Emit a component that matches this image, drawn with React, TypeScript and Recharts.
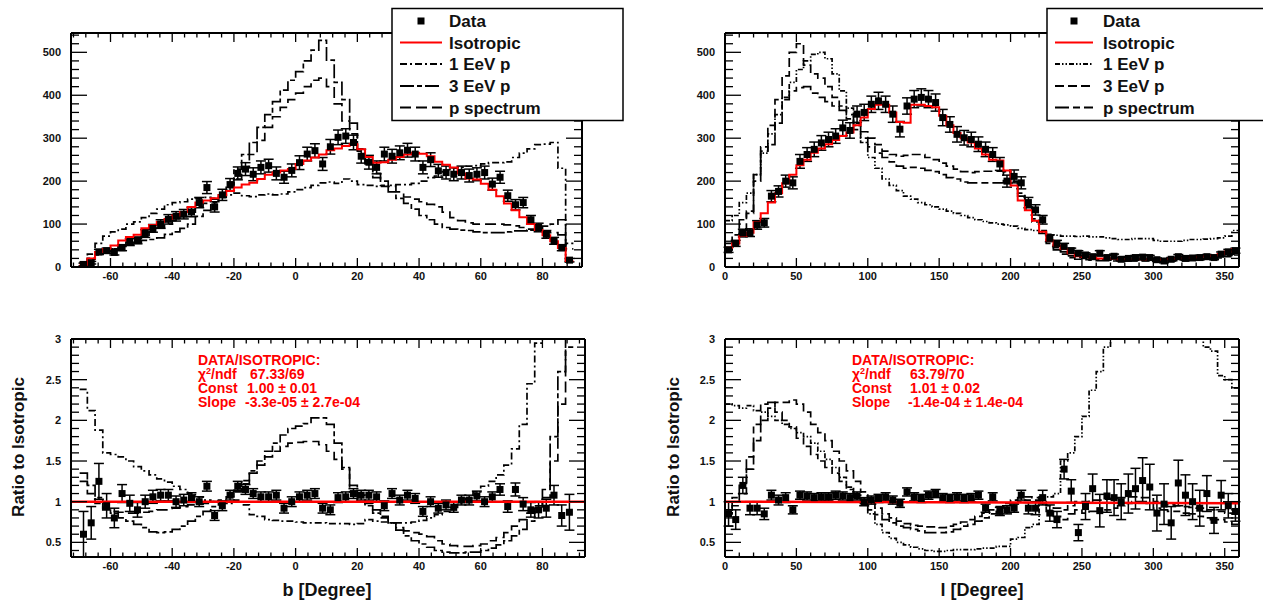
import React from "react";
import { ComposedChart, Line, Scatter, ErrorBar, XAxis, YAxis } from "recharts";

const FONT = '"Liberation Sans", Arial, Helvetica, sans-serif';

// histogram binning (lower edge of first bin, bin width)
const B_FIRST_EDGE = -70;
const B_BIN = 2.5;
const L_FIRST_EDGE = 0;
const L_BIN = 5;

// ---- b distribution (events per bin) ----
const bIsotropic = [
  5, 20, 35, 42, 50, 62, 70, 75, 90, 98,
  105, 112, 120, 128, 140, 150, 155, 160, 167, 177,
  185, 192, 196, 205, 215, 220, 225, 228, 240, 248,
  255, 262, 272, 276, 282, 286, 274, 256, 243, 244,
  250, 256, 262, 266, 264, 258, 245, 238, 232, 218,
  206, 204, 194, 180, 165, 148, 132, 116, 100, 86,
  74, 60, 44, 14,
];
const bData = [
  6, 10, 35, 38, 34, 45, 58, 62, 78, 90,
  100, 111, 118, 123, 128, 150, 185, 140, 168, 192,
  218, 228, 216, 232, 236, 218, 209, 225, 243, 263,
  271, 240, 280, 302, 305, 290, 258, 244, 232, 263,
  258, 266, 272, 263, 232, 250, 224, 220, 216, 220,
  213, 216, 220, 193, 209, 166, 145, 150, 110, 92,
  76, 61, 45, 16,
];
const bDataErr = [
  3, 3, 6, 6, 6, 7, 8, 8, 9, 9,
  10, 11, 11, 11, 11, 12, 14, 12, 13, 14,
  15, 15, 15, 15, 15, 15, 14, 15, 16, 16,
  16, 15, 17, 17, 17, 17, 16, 16, 15, 16,
  16, 16, 16, 16, 15, 16, 15, 15, 15, 15,
  15, 15, 15, 14, 14, 13, 12, 12, 10, 10,
  9, 8, 7, 4,
];
const b1EeV = [
  10, 30, 55, 72, 82, 88, 100, 105, 115, 125,
  135, 145, 150, 152, 158, 160, 162, 160, 162, 168,
  172, 166, 164, 168, 170, 168, 170, 175, 180, 185,
  190, 196, 198, 195, 205, 200, 192, 190, 188, 188,
  190, 192, 192, 195, 200, 208, 212, 222, 230, 232,
  235, 236, 240, 243, 243, 245, 255, 265, 275, 285,
  286, 290, 230, 12,
];
const b3EeV = [
  12, 20, 30, 38, 42, 48, 53, 57, 62, 64,
  68, 76, 82, 90, 100, 118, 132, 150, 168, 192,
  228, 262, 290, 325, 355, 385, 412, 435, 455, 480,
  505, 528, 482, 430, 390, 335, 275, 240, 208, 190,
  175, 160, 148, 135, 120, 110, 100, 92, 88, 86,
  85, 82, 80, 80, 80, 82, 84, 84, 86, 90,
  95, 100, 110, 55,
];
const bPSpectrum = [
  10, 18, 28, 35, 42, 50, 58, 66, 74, 82,
  92, 100, 108, 118, 128, 140, 148, 158, 168, 185,
  205, 232, 262, 295, 325, 350, 372, 390, 405, 420,
  435, 440, 420, 380, 340, 310, 270, 240, 218, 200,
  188, 175, 163, 158, 152, 146, 140, 128, 115, 108,
  103, 100, 100, 100, 100, 98, 96, 92, 88, 84,
  82, 80, 75, 42,
];

// ---- b ratio to isotropic ----
const bRatioData = [
  0.6, 0.74, 1.25, 0.95, 0.8, 1.1, 0.98, 0.9, 1.0, 1.06,
  1.08, 1.08, 1.0, 1.02, 1.05, 1.0, 1.19, 0.83, 0.95, 1.08,
  1.19, 1.15, 1.1, 1.06, 1.06, 1.08, 0.92, 1.0, 1.06, 1.08,
  1.1, 0.92, 0.9, 1.05, 1.06, 1.1, 1.08, 1.08, 1.06, 0.95,
  1.1, 1.02, 1.08, 1.04, 0.88, 1.0, 0.92, 0.96, 0.93, 1.02,
  1.02, 1.07, 1.0, 1.06, 1.15, 0.94, 1.15, 0.97, 0.9, 0.9,
  0.92, 1.08, 0.83, 0.87,
];
const bRatioErr = [
  0.28, 0.2, 0.22, 0.15, 0.12, 0.11, 0.1, 0.09, 0.08, 0.08,
  0.07, 0.07, 0.07, 0.07, 0.06, 0.06, 0.06, 0.06, 0.06, 0.06,
  0.06, 0.06, 0.06, 0.06, 0.06, 0.06, 0.06, 0.06, 0.06, 0.06,
  0.06, 0.06, 0.06, 0.06, 0.06, 0.06, 0.06, 0.06, 0.06, 0.06,
  0.06, 0.06, 0.06, 0.06, 0.06, 0.06, 0.06, 0.06, 0.06, 0.06,
  0.06, 0.06, 0.06, 0.06, 0.07, 0.07, 0.08, 0.08, 0.09, 0.1,
  0.11, 0.12, 0.13, 0.22,
];
const bRatio1EeV = [
  2.38, 2.12, 1.88, 1.6, 1.58, 1.55, 1.5, 1.43, 1.38, 1.33,
  1.28, 1.24, 1.19, 1.15, 1.1, 1.06, 1.02, 1.0, 0.98, 0.98,
  1.02, 0.96, 0.84, 0.82, 0.78, 0.77, 0.76, 0.76, 0.75, 0.74,
  0.74, 0.74, 0.73, 0.73, 0.73, 0.72, 0.73, 0.78, 0.76, 0.75,
  0.74, 0.74, 0.74, 0.75, 0.77, 0.8, 0.84, 0.88, 0.93, 0.98,
  1.04, 1.12, 1.19, 1.25, 1.33, 1.45, 1.65, 1.95, 2.45, 2.95,
  3.4, 3.6, 3.5, 3.4,
];
const bRatio3EeV = [
  1.35, 1.2, 1.05, 0.92, 0.86, 0.8, 0.76, 0.72, 0.68, 0.63,
  0.62, 0.63, 0.66, 0.7, 0.76, 0.82, 0.88, 0.94, 1.0, 1.06,
  1.14, 1.26, 1.38, 1.5, 1.62, 1.72, 1.82, 1.9, 1.93, 1.96,
  2.03, 2.03, 1.95, 1.72, 1.42, 1.12, 1.0, 0.95, 0.86, 0.8,
  0.74, 0.65, 0.58, 0.52, 0.48, 0.44, 0.4, 0.38, 0.37, 0.37,
  0.38, 0.38, 0.4, 0.43, 0.47, 0.52, 0.58, 0.66, 0.76, 0.92,
  1.15, 1.8, 2.6, 3.3,
];
const bRatioPSpectrum = [
  1.25, 1.1, 0.98, 0.9, 0.88, 0.87, 0.86, 0.86, 0.87, 0.88,
  0.9, 0.9, 0.92, 0.94, 0.96, 0.97, 0.98, 1.0, 1.02, 1.06,
  1.12, 1.22, 1.35, 1.45, 1.55, 1.62, 1.68, 1.72, 1.73, 1.74,
  1.74, 1.7, 1.62, 1.52, 1.4, 1.2, 1.08, 0.98, 0.9, 0.82,
  0.74, 0.68, 0.64, 0.62, 0.6, 0.57, 0.52, 0.48, 0.46, 0.45,
  0.45, 0.46, 0.48, 0.52, 0.56, 0.62, 0.7, 0.78, 0.86, 0.95,
  1.05, 1.5, 2.2, 2.9,
];
const bFitX = [-72.8, 93.8];
const bFitY = [1.0, 1.0];

// ---- l distribution (events per bin) ----
const lIsotropic = [
  45, 55, 72, 80, 105, 125, 150, 172, 195, 215,
  237, 250, 266, 276, 286, 296, 305, 313, 330, 348,
  368, 378, 378, 360, 338, 336, 378, 378, 375, 372,
  352, 330, 312, 300, 290, 276, 262, 250, 248, 225,
  190, 155, 132, 108, 82, 62, 50, 42, 32, 25,
  24, 22, 20, 20, 19, 18, 18, 18, 18, 17,
  17, 18, 19, 20, 21, 22, 24, 25, 27, 30,
  36, 42,
];
const lData = [
  40, 55, 79, 80, 98, 103, 165, 176, 200, 196,
  246, 262, 274, 289, 297, 305, 324, 318, 356, 360,
  379, 387, 379, 356, 321, 375, 391, 395, 391, 383,
  348, 332, 309, 301, 297, 286, 274, 262, 240, 200,
  211, 196, 150, 133, 110, 67, 55, 48, 38, 32,
  28, 24, 32, 22, 25, 18, 20, 22, 23, 22,
  17, 14, 18, 24, 20, 21, 22, 24, 22, 30,
  35, 38,
];
const lDataErr = [
  6, 7, 9, 9, 10, 10, 13, 13, 14, 14,
  16, 16, 17, 17, 17, 17, 18, 18, 19, 19,
  19, 20, 19, 19, 18, 19, 20, 20, 20, 20,
  19, 18, 18, 17, 17, 17, 17, 16, 15, 14,
  15, 14, 12, 12, 10, 8, 7, 7, 6, 6,
  5, 5, 6, 5, 5, 4, 4, 5, 5, 5,
  4, 4, 4, 5, 4, 5, 5, 5, 5, 5,
  6, 6,
];
const l1EeV = [
  108, 120, 150, 172, 215, 265, 310, 355, 395, 430,
  460, 480, 495, 500, 485, 450, 410, 370, 330, 290,
  255, 230, 205, 190, 178, 165, 158, 150, 145, 140,
  135, 130, 125, 120, 115, 110, 106, 103, 100, 98,
  95, 90, 87, 85, 80, 76, 74, 72, 72, 71,
  72, 70, 70, 68, 66, 64, 64, 66, 66, 66,
  62, 60, 60, 60, 62, 64, 64, 65, 66, 68,
  72, 85,
];
const l3EeV = [
  40, 55, 85, 125, 200, 280, 330, 390, 445, 500,
  520, 470, 450, 440, 420, 395, 375, 355, 335, 315,
  300, 285, 270, 262, 258, 260, 262, 262, 255, 250,
  242, 235, 228, 222, 220, 222, 223, 223, 223, 222,
  200, 172, 140, 112, 85, 62, 45, 35, 26, 22,
  20, 19, 18, 17, 16, 16, 16, 15, 15, 15,
  15, 15, 16, 17, 18, 18, 19, 20, 22, 24,
  27, 30,
];
const lPSpectrum = [
  55, 75, 110, 130, 215, 270, 285, 335, 390, 410,
  418, 420, 405, 395, 385, 375, 365, 345, 320, 300,
  280, 265, 255, 245, 235, 230, 232, 230, 225, 222,
  215, 208, 205, 198, 196, 196, 196, 196, 196, 222,
  195, 165, 135, 105, 78, 55, 40, 30, 22, 18,
  17, 16, 15, 15, 14, 14, 14, 14, 14, 14,
  14, 14, 14, 15, 15, 16, 17, 18, 19, 21,
  24, 28,
];

// ---- l ratio to isotropic ----
const lRatioData = [
  0.85, 0.78, 1.2, 0.92, 0.92, 0.85, 1.08, 1.02, 1.05, 0.9,
  1.08, 1.07, 1.05, 1.06, 1.06, 1.08, 1.07, 1.05, 1.07, 1.0,
  1.02, 1.04, 1.06, 1.02, 0.98, 1.12, 1.06, 1.04, 1.08, 1.1,
  1.05, 1.04, 1.06, 1.04, 1.05, 1.08, 0.92, 1.06, 0.88, 0.9,
  0.92, 1.08, 0.92, 0.92, 1.05, 0.86, 0.78, 1.4, 1.13, 0.62,
  0.94, 1.16, 0.89, 1.07, 1.05, 1.0, 1.1, 1.16, 1.26, 1.18,
  0.86, 0.97, 0.74, 1.23, 1.08, 1.0, 0.92, 1.1, 0.77, 1.08,
  0.95, 0.88,
];
const lRatioErr = [
  0.15, 0.12, 0.1, 0.08, 0.08, 0.07, 0.06, 0.06, 0.06, 0.05,
  0.05, 0.05, 0.05, 0.05, 0.05, 0.05, 0.05, 0.05, 0.05, 0.05,
  0.05, 0.05, 0.05, 0.05, 0.05, 0.05, 0.05, 0.05, 0.05, 0.05,
  0.05, 0.05, 0.05, 0.05, 0.05, 0.05, 0.05, 0.05, 0.05, 0.05,
  0.05, 0.06, 0.07, 0.08, 0.09, 0.1, 0.1, 0.12, 0.14, 0.1,
  0.16, 0.18, 0.2, 0.2, 0.22, 0.22, 0.24, 0.25, 0.28, 0.28,
  0.22, 0.25, 0.2, 0.28, 0.25, 0.22, 0.22, 0.22, 0.16, 0.18,
  0.15, 0.12,
];
const lRatio1EeV = [
  2.2, 2.18, 2.15, 2.18, 2.12, 2.1, 2.05, 2.0, 1.95, 1.9,
  1.85, 1.8, 1.72, 1.62, 1.52, 1.42, 1.3, 1.18, 1.08, 0.98,
  0.85, 0.72, 0.62, 0.55, 0.5, 0.47, 0.44, 0.42, 0.4, 0.39,
  0.39, 0.4, 0.41, 0.41, 0.41, 0.42, 0.43, 0.43, 0.45, 0.45,
  0.54, 0.56, 0.68, 0.72, 1.06, 1.06, 1.1, 1.5, 1.6, 1.8,
  2.05, 2.37, 2.6, 2.9, 3.4, 3.5, 3.6, 3.6, 3.6, 3.6,
  3.6, 3.7, 3.7, 3.6, 3.5, 3.4, 3.2, 2.9, 2.85, 2.55,
  2.5, 2.4,
];
const lRatio3EeV = [
  0.85, 0.95, 1.1, 1.4, 1.75, 2.0, 2.15, 2.22, 2.22, 2.25,
  2.2, 2.1, 1.95, 1.85, 1.75, 1.62, 1.5, 1.38, 1.25, 1.12,
  1.02, 0.92, 0.85, 0.8, 0.76, 0.73, 0.71, 0.7, 0.69, 0.69,
  0.68, 0.7, 0.72, 0.75, 0.78, 0.82, 0.86, 0.9, 0.94, 0.98,
  1.02, 1.05, 1.06, 1.05, 1.0, 0.95, 0.92, 0.9, 0.95, 1.0,
  1.0, 1.02, 1.02, 1.03, 1.04, 1.05, 1.06, 1.06, 1.05, 1.05,
  1.0, 0.98, 0.96, 0.95, 0.94, 0.93, 0.92, 0.9, 0.9, 0.88,
  0.86, 0.85,
];
const lRatioPSpectrum = [
  0.9, 1.05, 1.2, 1.55, 1.95, 2.2, 2.22, 2.1, 2.0, 1.92,
  1.78, 1.68, 1.58, 1.5, 1.42, 1.35, 1.25, 1.15, 1.05, 0.98,
  0.9, 0.84, 0.78, 0.74, 0.7, 0.68, 0.66, 0.64, 0.62, 0.62,
  0.62, 0.63, 0.66, 0.7, 0.72, 0.76, 0.8, 0.85, 0.88, 0.92,
  0.98, 1.0, 1.02, 1.02, 0.98, 0.88, 0.82, 0.78, 0.85, 0.9,
  0.86, 0.88, 0.88, 0.9, 0.92, 0.95, 0.98, 1.0, 1.0, 0.98,
  0.92, 0.9, 0.88, 0.88, 0.86, 0.85, 0.82, 0.8, 0.78, 0.78,
  0.75, 0.72,
];
const lFitX = [0, 360];
const lFitY = [1.0, 0.98];

// ---- axis ticks ----
const bMajorTicks = [-60, -40, -20, 0, 20, 40, 60, 80];
const lMajorTicks = [0, 50, 100, 150, 200, 250, 300, 350];
const countMajorTicks = [0, 100, 200, 300, 400, 500];
const ratioMajorTicks = [0.5, 1, 1.5, 2, 2.5, 3];

function range(start: number, stop: number, step: number) {
  const n = Math.round((stop - start) / step) + 1;
  return Array.from({ length: n }, (_, i) => Math.round((start + i * step) * 1000) / 1000);
}
const bTicks = range(-72, 92, 4);
const lTicks = range(0, 360, 10);
const countTicks = range(0, 540, 20);
const ratioTicks = range(0.4, 3, 0.1);

// histogram outline: one point per lower edge plus the last upper edge
function toSteps(firstEdge: number, bin: number, vals: number[]) {
  const pts = vals.map((v, i) => ({ x: firstEdge + i * bin, v }));
  pts.push({ x: firstEdge + vals.length * bin, v: vals[vals.length - 1] });
  return pts;
}
function toPoints(firstEdge: number, bin: number, vals: number[], errs: number[]) {
  return vals.map((v, i) => ({ x: firstEdge + (i + 0.5) * bin, v, e: errs[i] }));
}
function toFit(xs: number[], ys: number[]) {
  return xs.map((x, i) => ({ x, v: ys[i] }));
}

const isMajor = (v: number, majors: number[]) => majors.some((m) => Math.abs(m - v) < 1e-6);

function makeTick(side: string, majors: number[], majorLen: number, minorLen: number, labelled: boolean) {
  return (p: any) => {
    const v = p.payload.value;
    const major = isMajor(v, majors);
    const len = major ? majorLen : minorLen;
    const { x, y } = p;
    let seg = { x1: x, x2: x, y1: y, y2: y };
    if (side === "left") seg = { x1: x, x2: x + len, y1: y, y2: y };
    if (side === "right") seg = { x1: x, x2: x - len, y1: y, y2: y };
    if (side === "top") seg = { x1: x, x2: x, y1: y, y2: y + len };
    if (side === "bottom") seg = { x1: x, x2: x, y1: y, y2: y - len };
    let label = null;
    if (labelled && major) {
      label =
        side === "left" ? (
          <text x={x - 10} y={y + 4} textAnchor="end" fontSize={11} fontWeight="bold" fontFamily={FONT} fill="#111">
            {String(v)}
          </text>
        ) : (
          <text x={x} y={y + 13} textAnchor="middle" fontSize={11} fontWeight="bold" fontFamily={FONT} fill="#111">
            {String(v)}
          </text>
        );
    }
    return (
      <g>
        <line {...seg} stroke="#000" strokeWidth={1.3} />
        {label}
      </g>
    );
  };
}

const Square = (p: any) => <rect x={p.cx - 3.5} y={p.cy - 3.5} width={7} height={7} fill="#000" />;

const frame = { stroke: "#000", strokeWidth: 2 };

// plot box given in page pixels; axes take 1px each, so margins are reduced by 1
function Panel({ cfg, children }: { cfg: any; children: React.ReactNode }) {
  const xTickB = makeTick("bottom", cfg.xMajor, 9, 4.5, true);
  const xTickT = makeTick("top", cfg.xMajor, 9, 4.5, false);
  const yTickL = makeTick("left", cfg.yMajor, 16, 8, true);
  const yTickR = makeTick("right", cfg.yMajor, 16, 8, false);
  const [px0, py0, px1, py1] = cfg.plot;
  const margin = {
    left: px0 - cfg.left - 1,
    top: py0 - cfg.top - 1,
    right: cfg.left + cfg.width - px1 - 1,
    bottom: cfg.top + cfg.height - py1 - 1,
  };
  return (
    <div style={{ position: "absolute", left: cfg.left, top: cfg.top }}>
      <ComposedChart width={cfg.width} height={cfg.height} margin={margin}>
        <XAxis dataKey="x" type="number" domain={cfg.xDomain} allowDataOverflow ticks={cfg.xTicks} interval={0}
          tickSize={0} tickMargin={0} tickLine={false} axisLine={frame} height={1} tick={xTickB} />
        <XAxis xAxisId="top" orientation="top" dataKey="x" type="number" domain={cfg.xDomain} allowDataOverflow
          ticks={cfg.xTicks} interval={0} tickSize={0} tickMargin={0} tickLine={false} axisLine={frame} height={1} tick={xTickT} />
        <YAxis type="number" domain={cfg.yDomain} allowDataOverflow ticks={cfg.yTicks} interval={0}
          tickSize={0} tickMargin={0} tickLine={false} axisLine={frame} width={1} tick={yTickL} />
        <YAxis yAxisId="right" orientation="right" type="number" domain={cfg.yDomain} allowDataOverflow
          ticks={cfg.yTicks} interval={0} tickSize={0} tickMargin={0} tickLine={false} axisLine={frame} width={1} tick={yTickR} />
        {children}
      </ComposedChart>
    </div>
  );
}

function hist(key: string, first: number, bin: number, vals: number[], stroke: string, dash?: string, w = 1.7) {
  return (
    <Line key={key} data={toSteps(first, bin, vals)} dataKey="v" type="stepAfter" stroke={stroke} strokeWidth={w}
      strokeDasharray={dash} dot={false} activeDot={false} isAnimationActive={false} />
  );
}
function points(key: string, first: number, bin: number, vals: number[], errs: number[]) {
  return (
    <Scatter key={key} data={toPoints(first, bin, vals, errs)} dataKey="v" shape={Square} isAnimationActive={false}>
      <ErrorBar dataKey="e" direction="y" width={5} stroke="#000" strokeWidth={1.5} />
    </Scatter>
  );
}
function fitLine(key: string, xs: number[], ys: number[]) {
  return (
    <Line key={key} data={toFit(xs, ys)} dataKey="v" type="linear" stroke="#ff0000" strokeWidth={2.5}
      dot={false} activeDot={false} isAnimationActive={false} />
  );
}

const DASH_L = { one: "7 3 2 3", three: "14 3 5 3", pspec: "11 5" };
const DASH_R = { one: "5 2 1.5 2 1.5 2", three: "9 4", pspec: "14 4 7 4" };

const topLeft = {
  left: 0, top: 0, width: 631, height: 300, plot: [71, 33, 582, 267],
  xDomain: [-72.8, 92.8], yDomain: [0, 545],
  xTicks: bTicks, xMajor: bMajorTicks, yTicks: countTicks, yMajor: countMajorTicks,
};
const botLeft = {
  left: 0, top: 300, width: 631, height: 300, plot: [71, 339, 585, 557],
  xDomain: [-72.8, 93.8], yDomain: [0.32, 3],
  xTicks: bTicks, xMajor: bMajorTicks, yTicks: ratioTicks, yMajor: ratioMajorTicks,
};
const topRight = {
  left: 631, top: 0, width: 632, height: 300, plot: [725, 33, 1239, 267],
  xDomain: [0, 360], yDomain: [0, 545],
  xTicks: lTicks, xMajor: lMajorTicks, yTicks: countTicks, yMajor: countMajorTicks,
};
const botRight = {
  left: 631, top: 300, width: 632, height: 300, plot: [725, 339, 1239, 557],
  xDomain: [0, 360], yDomain: [0.32, 3],
  xTicks: lTicks, xMajor: lMajorTicks, yTicks: ratioTicks, yMajor: ratioMajorTicks,
};

const legendLabels = ["Data", "Isotropic", "1 EeV p", "3 EeV p", "p spectrum"];
const legendRows = [21, 42.5, 64, 86, 107.5];

function LegendBox({ x, lineX0, lineX1, textX, dash }: any) {
  const styles = [
    { stroke: "#000", dash: undefined },
    { stroke: "#ff0000", dash: undefined },
    { stroke: "#000", dash: dash.one },
    { stroke: "#000", dash: dash.three },
    { stroke: "#000", dash: dash.pspec },
  ];
  return (
    <g>
      <rect x={x} y={8.5} width={231} height={112} fill="#fff" stroke="#000" strokeWidth={1.5} />
      {legendLabels.map((lab, i) => (
        <g key={lab}>
          {i === 0 ? (
            <rect x={(lineX0 + lineX1) / 2 - 3.5} y={legendRows[i] - 3.5} width={7} height={7} fill="#000" />
          ) : (
            <line x1={lineX0} x2={lineX1} y1={legendRows[i]} y2={legendRows[i]} stroke={styles[i].stroke}
              strokeWidth={2} strokeDasharray={styles[i].dash} />
          )}
          <text x={textX} y={legendRows[i] + 6} fontSize={17} fontWeight="bold" fontFamily={FONT} fill="#111">{lab}</text>
        </g>
      ))}
    </g>
  );
}

function Stats({ x, vx, lines }: any) {
  const ys = [365, 379, 393, 407];
  const common = { fontSize: 14, fontWeight: "bold", fontFamily: FONT, fill: "#ff0000" } as any;
  return (
    <g>
      <text x={x} y={ys[0]} {...common}>DATA/ISOTROPIC:</text>
      <text x={x} y={ys[1]} {...common}>
        <tspan>χ</tspan><tspan dy={-5} fontSize={9}>2</tspan><tspan dy={5}>/ndf</tspan>
      </text>
      <text x={vx[0]} y={ys[1]} {...common}>{lines[0]}</text>
      <text x={x} y={ys[2]} {...common}>Const</text>
      <text x={vx[1]} y={ys[2]} {...common}>{lines[1]}</text>
      <text x={x} y={ys[3]} {...common}>Slope</text>
      <text x={vx[2]} y={ys[3]} {...common}>{lines[2]}</text>
    </g>
  );
}

export default function App() {
  return (
    <div style={{ position: "absolute", left: 0, top: 0, width: 1263, height: 600, background: "#fff", overflow: "hidden" }}>
      <Panel cfg={topLeft}>
        {hist("b1", B_FIRST_EDGE, B_BIN, b1EeV, "#000", DASH_L.one)}
        {hist("b3", B_FIRST_EDGE, B_BIN, b3EeV, "#000", DASH_L.three)}
        {hist("bp", B_FIRST_EDGE, B_BIN, bPSpectrum, "#000", DASH_L.pspec)}
        {points("bd", B_FIRST_EDGE, B_BIN, bData, bDataErr)}
        {hist("biso", B_FIRST_EDGE, B_BIN, bIsotropic, "#ff0000", undefined, 2)}
      </Panel>
      <Panel cfg={botLeft}>
        {hist("br1", B_FIRST_EDGE, B_BIN, bRatio1EeV, "#000", DASH_L.one)}
        {hist("br3", B_FIRST_EDGE, B_BIN, bRatio3EeV, "#000", DASH_L.three)}
        {hist("brp", B_FIRST_EDGE, B_BIN, bRatioPSpectrum, "#000", DASH_L.pspec)}
        {points("brd", B_FIRST_EDGE, B_BIN, bRatioData, bRatioErr)}
        {fitLine("bfit", bFitX, bFitY)}
      </Panel>
      <Panel cfg={topRight}>
        {hist("l1", L_FIRST_EDGE, L_BIN, l1EeV, "#000", DASH_R.one)}
        {hist("l3", L_FIRST_EDGE, L_BIN, l3EeV, "#000", DASH_R.three)}
        {hist("lp", L_FIRST_EDGE, L_BIN, lPSpectrum, "#000", DASH_R.pspec)}
        {points("ld", L_FIRST_EDGE, L_BIN, lData, lDataErr)}
        {hist("liso", L_FIRST_EDGE, L_BIN, lIsotropic, "#ff0000", undefined, 2)}
      </Panel>
      <Panel cfg={botRight}>
        {hist("lr1", L_FIRST_EDGE, L_BIN, lRatio1EeV, "#000", DASH_R.one)}
        {hist("lr3", L_FIRST_EDGE, L_BIN, lRatio3EeV, "#000", DASH_R.three)}
        {hist("lrp", L_FIRST_EDGE, L_BIN, lRatioPSpectrum, "#000", DASH_R.pspec)}
        {points("lrd", L_FIRST_EDGE, L_BIN, lRatioData, lRatioErr)}
        {fitLine("lfit", lFitX, lFitY)}
      </Panel>

      <svg width={1263} height={600} style={{ position: "absolute", left: 0, top: 0, pointerEvents: "none" }}>
        <LegendBox x={392} lineX0={400} lineX1={442} textX={449} dash={DASH_L} />
        <LegendBox x={1047} lineX0={1055} lineX1={1093} textX={1103} dash={DASH_R} />

        <Stats x={198} vx={[250, 247, 245]} lines={["67.33/69", "1.00 ± 0.01", "-3.3e-05 ± 2.7e-04"]} />
        <Stats x={852} vx={[910, 910, 908]} lines={["63.79/70", "1.01 ± 0.02", "-1.4e-04 ± 1.4e-04"]} />

        <text transform="translate(24,447) rotate(-90)" textAnchor="middle" fontSize={17} fontWeight="bold" fontFamily={FONT} fill="#111">
          Ratio to Isotropic
        </text>
        <text transform="translate(679,447) rotate(-90)" textAnchor="middle" fontSize={17} fontWeight="bold" fontFamily={FONT} fill="#111">
          Ratio to Isotropic
        </text>
        <text x={327} y={596} textAnchor="middle" fontSize={18} fontWeight="bold" fontFamily={FONT} fill="#111">b [Degree]</text>
        <text x={982} y={596} textAnchor="middle" fontSize={18} fontWeight="bold" fontFamily={FONT} fill="#111">l [Degree]</text>
      </svg>
    </div>
  );
}
